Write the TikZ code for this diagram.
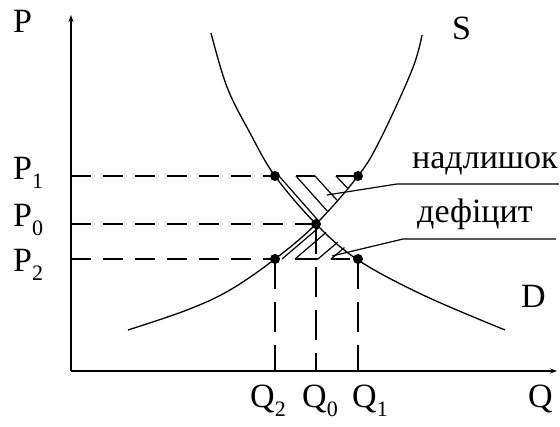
\documentclass[tikz,border=0pt]{standalone}
\usepackage{fontspec}
\setmainfont{Liberation Serif}
\usetikzlibrary{arrows.meta}
\newcommand\lbl{\fontsize{34}{40}\selectfont}
\newcommand\subs[1]{\raisebox{-9pt}{\fontsize{22}{22}\selectfont #1}}
\tikzset{
  ax/.style={line width=1.4pt,-{Stealth[length=7pt,width=5pt]}},
  curve/.style={line width=1.3pt},
  hdash/.style={line width=1.3pt,dash pattern=on 20pt off 12pt},
  vdash/.style={line width=1.3pt,dash pattern=on 30pt off 13pt},
  hatch/.style={line width=1.2pt},
  lead/.style={line width=1.2pt},
  dot/.style={circle,fill=black,inner sep=0pt,minimum size=10pt},
  txt/.style={anchor=base west,inner sep=0pt,font=\lbl},
}
\begin{document}
\begin{tikzpicture}[x=1pt,y=-1pt]
\useasboundingbox[fill=white] (0,0) rectangle (560,427);
% axes
\coordinate (O) at (71,371);
\coordinate (Ytop) at (71,15);
\coordinate (Xend) at (557,371);
\draw[ax] (O) -- (Ytop);
\draw[ax] (O) -- (Xend);
% curves
\draw[curve] plot[smooth,tension=0.6] coordinates {(211,33) (227,87) (250,133) (275,176) (316,224) (358,260) (423,295) (505,330)};
\draw[curve] plot[smooth,tension=0.6] coordinates {(128,330) (187,310) (230,290) (275,259) (316,224) (358,176) (380,140) (412,70) (422,35)};
% points
\node[dot] (A) at (275,176) {};
\node[dot] (B) at (358,176) {};
\node[dot] (E) at (316,224) {};
\node[dot] (F) at (275,259) {};
\node[dot] (G) at (358,259) {};
% axis feet
\coordinate (yP1) at (71,176);
\coordinate (yP0) at (71,224);
\coordinate (yP2) at (71,259);
\coordinate (xQ2) at (275,371);
\coordinate (xQ0) at (316,371);
\coordinate (xQ1) at (358,371);
\draw[hdash] (yP1) -- (A.center);
\draw[hdash] (yP0) -- (E.center);
\draw[hdash] (yP2) -- (F.center);
\draw[vdash] (F.center) -- (xQ2);
\draw[vdash] (E.center) -- (xQ0);
\draw[vdash] (G.center) -- (xQ1);
% hatching: surplus
\draw[hatch] (279,176) -- (318.6,221);
\draw[hatch] (296,176) -- (327.2,211);
\draw[hatch] (315,176) -- (336.8,200);
\draw[hatch] (336,176) -- (347.4,188);
\draw[hatch] (296,176) -- (315,176);
\draw[hatch] (336,176) -- (356,176);
% hatching: deficit
\draw[hatch] (282,259) -- (319.6,226.9);
\draw[hatch] (295,259) -- (326.1,232.4);
\draw[hatch] (318,259) -- (337.8,242.1);
\draw[hatch] (331,259) -- (344.4,247.6);
\draw[hatch] (295,259) -- (318,259);
\draw[hatch] (331,259) -- (350,259);
% labels
\node[txt] (lP) at (13,33) {P};
\node[txt] (lP1) at (13,180) {P\subs{1}};
\node[txt] (lP0) at (13,227) {P\subs{0}};
\node[txt] (lP2) at (13,272) {P\subs{2}};
\node[txt] (lQ2) at (250,408) {Q\subs{2}};
\node[txt] (lQ0) at (302,408) {Q\subs{0}};
\node[txt] (lQ1) at (352,408) {Q\subs{1}};
\node[txt] (lQ) at (528,408) {Q};
\node[txt] (lS) at (452,40) {S};
\node[txt] (lD) at (521,308) {D};
\node[txt] (ln) at (412,169) {надлишок};
\node[txt] (ld) at (417,223) {дефіцит};
% leader lines
\coordinate (s1) at (327,195);
\coordinate (k1) at (397,184);
\coordinate (e1) at (559,184);
\coordinate (s2) at (332,256);
\coordinate (k2) at (403,239);
\coordinate (e2) at (556,239);
\draw[lead] (s1) -- (k1) -- (e1);
\draw[lead] (s2) -- (k2) -- (e2);
\end{tikzpicture}
\end{document}
